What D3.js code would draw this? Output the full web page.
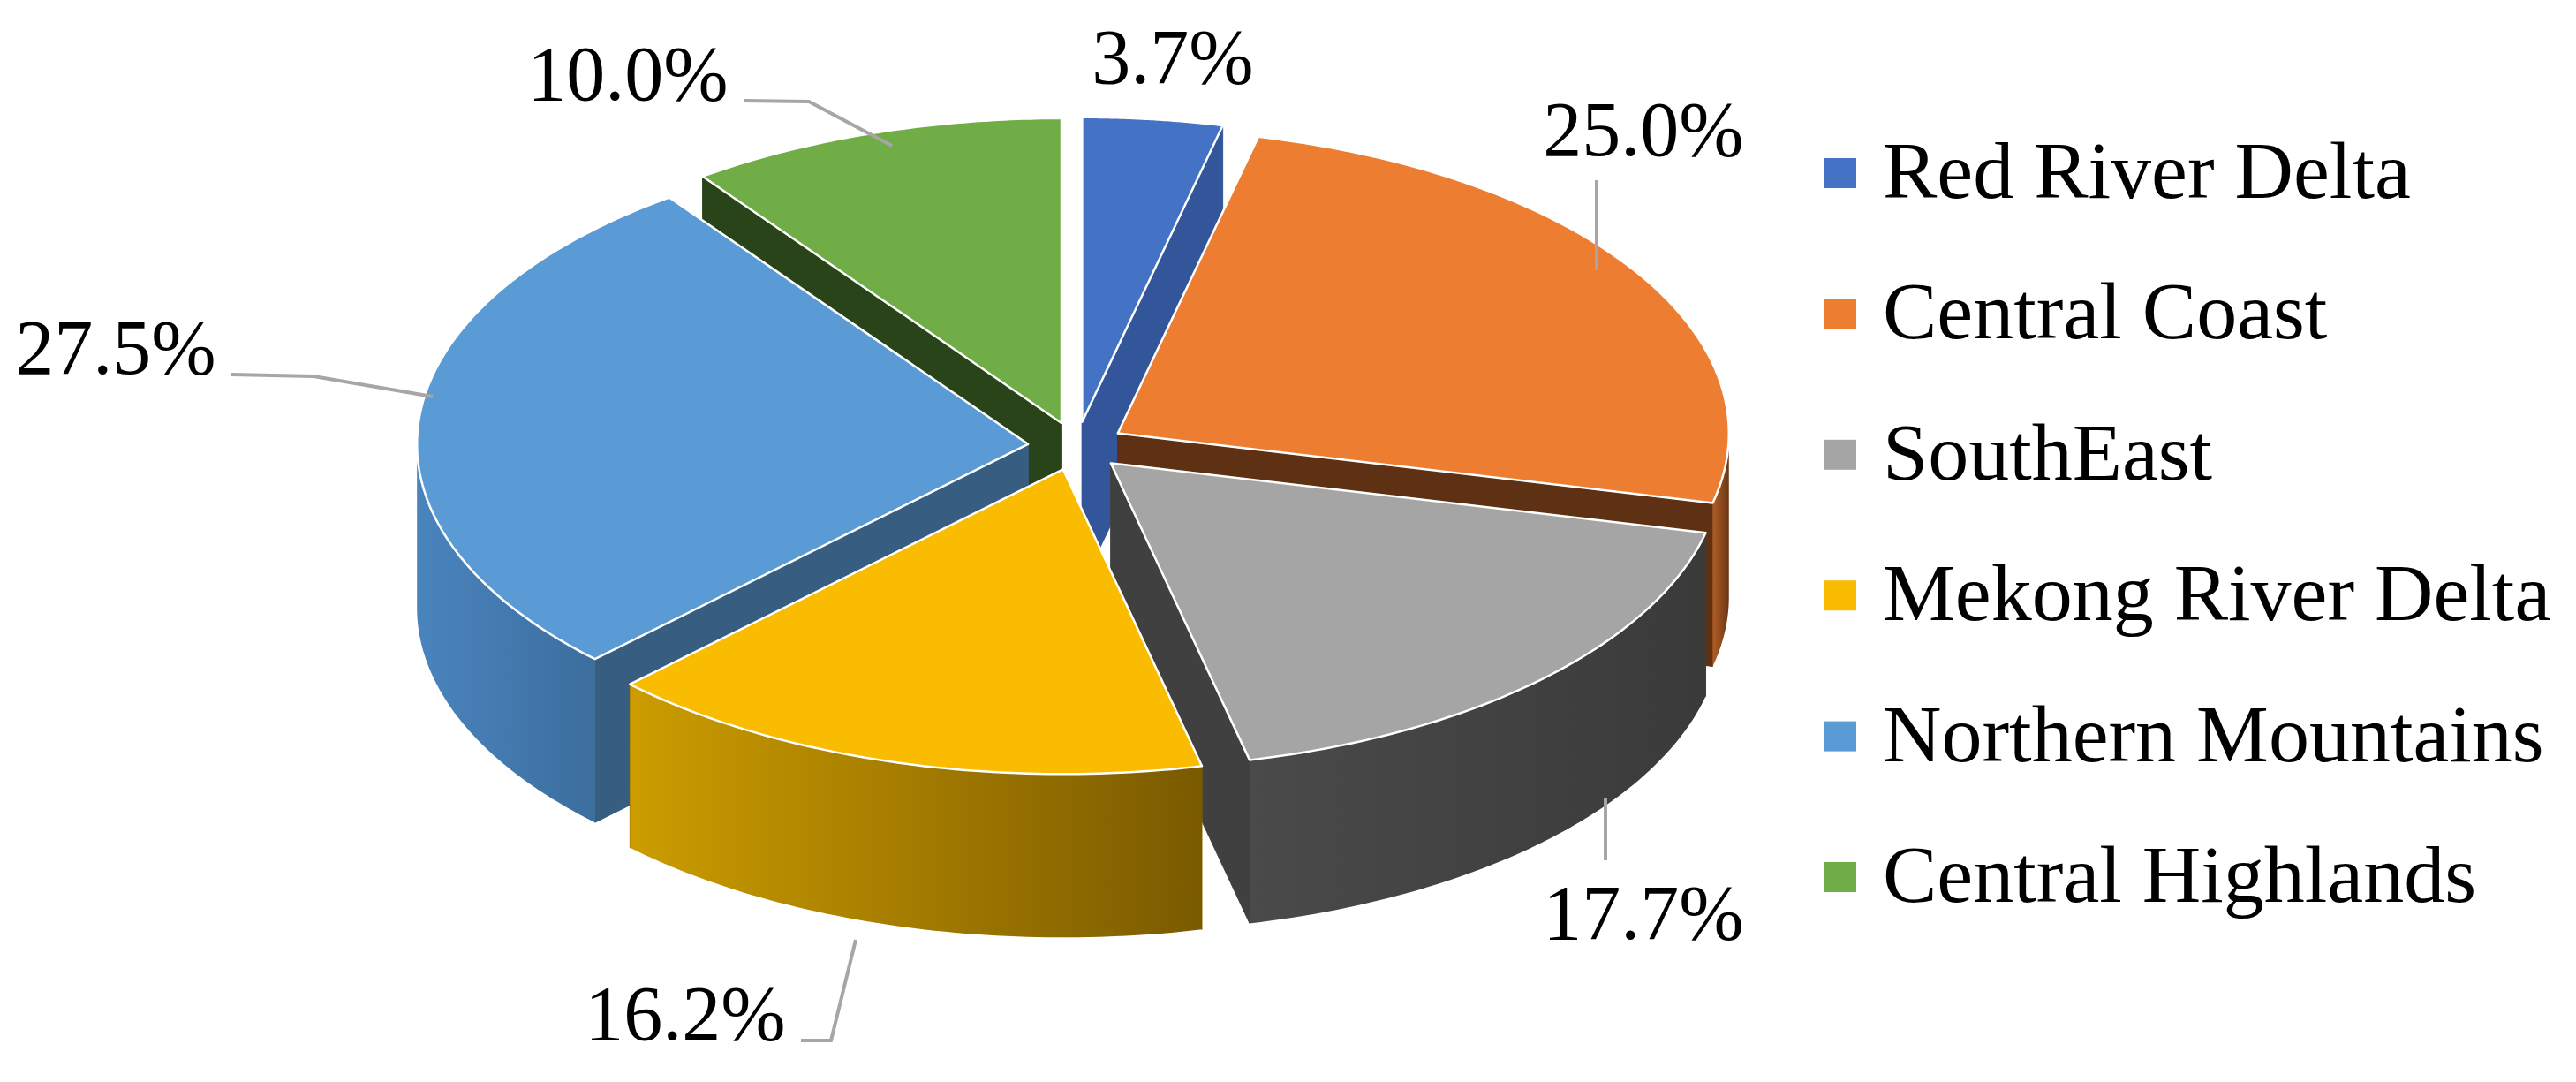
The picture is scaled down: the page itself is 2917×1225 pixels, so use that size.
<!DOCTYPE html>
<html><head><meta charset="utf-8">
<script src="https://cdn.jsdelivr.net/npm/d3@7"></script>
<style>body{margin:0;background:#fff}</style></head>
<body><svg id="c" width="2917" height="1225"></svg>
<script>
const categories = ["Red River Delta","Central Coast","SouthEast","Mekong River Delta","Northern Mountains","Central Highlands"];
const values = [3.7,25.0,17.7,16.2,27.5,10.0];
const labels = ["3.7%","25.0%","17.7%","16.2%","27.5%","10.0%"];
const topColors = ["#4472C4","#ED7D31","#A5A5A5","#F9BC00","#5B9BD5","#70AD47"];
const sideColors = ["#33569a","#5e3114","#404040","#8a6600","#375e80","#2a441a"];
const wallA = ["#3a63ad","#b35e25","#4a4a4a","#cc9c00","#4a84be","#4f7a32"];
const wallB = ["#2a4a85","#6a3615","#3a3a3a","#7a5a00","#3c6e9e","#2f4a1e"];

const svg = d3.select("#c");
const cx = 1219, cy = 505, rx = 692, ry = 345, depth = 185, ex = 55;
const pie = d3.pie().sort(null).value(d=>d)(values);
const defs = svg.append("defs");
const g = svg.append("g");

function pt(a, ox, oy, dy=0){ return [cx+ox+rx*Math.sin(a), cy+oy-ry*Math.cos(a)+dy]; }
function arcPts(a1,a2,ox,oy,dy=0){ const n=60, p=[]; for(let i=0;i<=n;i++){p.push(pt(a1+(a2-a1)*i/n,ox,oy,dy));} return p; }
const line = d3.line();

const slices = pie.map((s,i)=>{
  const mid=(s.startAngle+s.endAngle)/2;
  return {i, s, mid, ox: ex*Math.sin(mid), oy: -ex*Math.cos(mid)*ry/rx};
}).sort((a,b)=> (-Math.cos(a.mid)) - (-Math.cos(b.mid)));

slices.forEach(({i,s,ox,oy})=>{
  const a1=s.startAngle, a2=s.endAngle;
  const c0=[cx+ox,cy+oy], c1=[cx+ox,cy+oy+depth];
  const sg = g.append("g");
  [a1,a2].forEach(a=>{
    const e0=pt(a,ox,oy), e1=pt(a,ox,oy,depth);
    sg.append("path").attr("d",line([c0,e0,e1,c1])+"Z").attr("fill",sideColors[i]).attr("stroke",sideColors[i]).attr("stroke-width",1);
  });
  const lo=Math.max(a1,Math.PI/2), hi=Math.min(a2,3*Math.PI/2);
  if(hi>lo){
    const gid="w"+i;
    const lg=defs.append("linearGradient").attr("id",gid).attr("gradientUnits","userSpaceOnUse")
      .attr("x1",pt(hi,ox,oy)[0]).attr("x2",pt(lo,ox,oy)[0]).attr("y1",0).attr("y2",0);
    lg.append("stop").attr("offset","0").attr("stop-color",wallA[i]);
    lg.append("stop").attr("offset","1").attr("stop-color",wallB[i]);
    const top=arcPts(lo,hi,ox,oy), bot=arcPts(hi,lo,ox,oy,depth);
    sg.append("path").attr("d",line(top.concat(bot))+"Z").attr("fill","url(#"+gid+")");
  }
  sg.append("path").attr("d",line([c0].concat(arcPts(a1,a2,ox,oy)))+"Z")
    .attr("fill",topColors[i]).attr("stroke","#fff").attr("stroke-width",2.5).attr("stroke-linejoin","round");
});

const labelPos = [[1328,94],[1861,176],[1861,1063],[776,1177],[131,423],[711,113]];
const leaders = [null,[[1808,204],[1808,306]],[[1818,903],[1818,974]],[[907,1178],[941,1178],[969,1064]],[[262,424],[355,426],[490,449]],[[842,114],[916,115],[1010,165]]];
leaders.forEach(l=>{ if(l) svg.append("path").attr("d",line(l)).attr("fill","none").attr("stroke","#a6a6a6").attr("stroke-width",4); });
labels.forEach((t,i)=>{
  svg.append("text").attr("x",labelPos[i][0]).attr("y",labelPos[i][1]).attr("text-anchor","middle")
    .attr("font-family","Liberation Serif, serif").attr("font-size",88).attr("fill","#000").text(t);
});

const ly = d3.scalePoint().domain(categories).range([196,993]);
categories.forEach((c,i)=>{
  svg.append("rect").attr("x",2066).attr("y",ly(c)-17).attr("width",36).attr("height",34).attr("fill",topColors[i]);
  svg.append("text").attr("x",2132).attr("y",ly(c)+28).attr("font-family","Liberation Serif, serif")
    .attr("font-size",92).attr("fill","#000").text(c);
});
</script></body></html>
